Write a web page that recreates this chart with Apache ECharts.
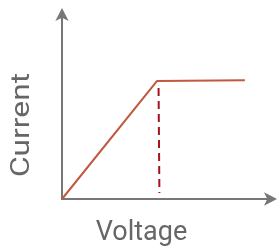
<!DOCTYPE html>
<html>
<head>
<meta charset="utf-8">
<script src="https://cdn.jsdelivr.net/npm/echarts@6/dist/echarts.min.js"></script>
<style>
  html, body { margin: 0; padding: 0; background: #fff; }
  #chart { width: 277px; height: 250px; }
</style>
</head>
<body>
<div id="chart"></div>
<script>
// curve: linear rise, then saturation
const curveX = [0, 45.5, 87.5]
const curveY = [0, 63.8, 64.2]
// dashed guide below the knee
const guideX = [46.2, 46.6]
const guideY = [60, 3.2]

const axisColor = '#777'
const textColor = '#666'

const chart = echarts.init(document.getElementById('chart'))

const axisBase = {
  type: 'value',
  min: 0,
  max: 100,
  nameLocation: 'middle',
  axisLine: {
    show: true,
    symbol: ['none', 'arrow'],
    symbolSize: [10, 13],
    symbolOffset: [0, 6],
    lineStyle: { color: axisColor, width: 2 },
  },
  axisTick: { show: false },
  axisLabel: { show: false },
  splitLine: { show: false },
}

chart.setOption({
  animation: false,
  grid: { left: 62, right: 6, top: 14, bottom: 51, containLabel: false, outerBoundsMode: 'none' },
  xAxis: {
    ...axisBase,
    name: 'Voltage',
    nameGap: 21,
    nameTextStyle: { color: textColor, fontSize: 27, fontFamily: 'Roboto', padding: [0, 50, 0, 0] },
  },
  yAxis: { ...axisBase },
  // y label is drawn stretched along its length, as in the source image
  graphic: [
    {
      type: 'text',
      x: 35,
      y: 125,
      rotation: Math.PI / 2,
      scaleX: 1.22,
      style: {
        text: 'Current',
        fill: textColor,
        font: '26px Roboto',
        align: 'center',
        verticalAlign: 'bottom',
      },
    },
  ],
  series: [
    {
      type: 'line',
      data: curveX.map((x, i) => [x, curveY[i]]),
      symbol: 'none',
      lineStyle: { color: '#c1583f', width: 2 },
    },
    {
      type: 'line',
      data: guideX.map((x, i) => [x, guideY[i]]),
      symbol: 'none',
      lineStyle: { color: '#a3141c', width: 2, type: [8, 5] },
    },
  ],
})
</script>
</body>
</html>
